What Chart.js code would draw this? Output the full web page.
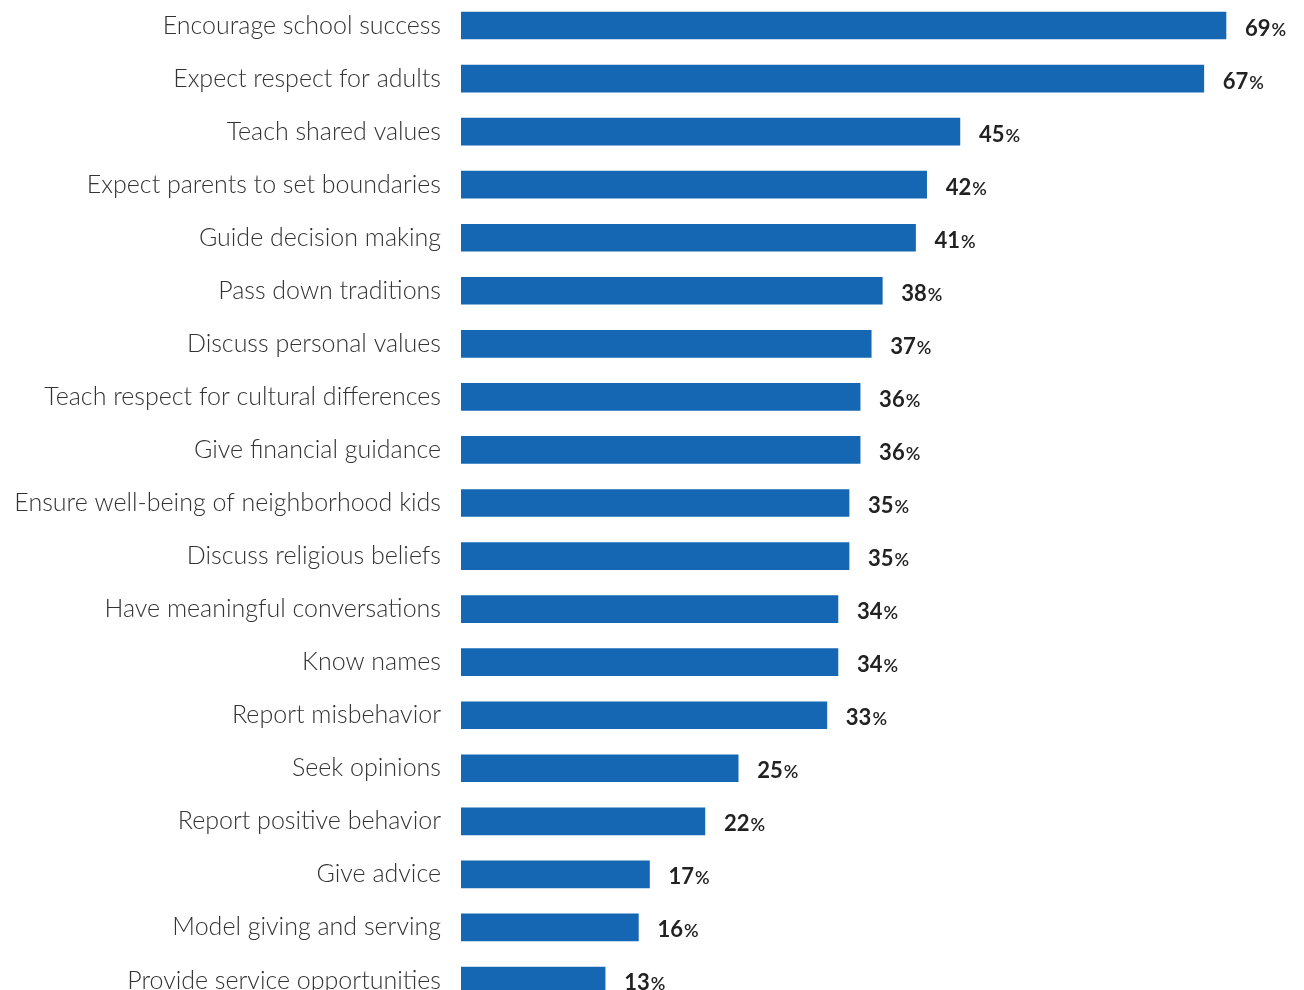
<!DOCTYPE html>
<html>
<head>
<meta charset="utf-8">
<script src="https://cdn.jsdelivr.net/npm/chart.js@4"></script>
<style>
  html, body { margin: 0; padding: 0; background: #fff; overflow: hidden; }
  #wrap { position: absolute; left: 0; top: -1px; width: 1304px; height: 1008px; }
</style>
</head>
<body>
<div id="wrap"><canvas id="myChart"></canvas></div>
<script>
var labels = [
  "Encourage school success",
  "Expect respect for adults",
  "Teach shared values",
  "Expect parents to set boundaries",
  "Guide decision making",
  "Pass down traditions",
  "Discuss personal values",
  "Teach respect for cultural differences",
  "Give financial guidance",
  "Ensure well-being of neighborhood kids",
  "Discuss religious beliefs",
  "Have meaningful conversations",
  "Know names",
  "Report misbehavior",
  "Seek opinions",
  "Report positive behavior",
  "Give advice",
  "Model giving and serving",
  "Provide service opportunities"
];
var values = [69, 67, 45, 42, 41, 38, 37, 36, 36, 35, 35, 34, 34, 33, 25, 22, 17, 16, 13];

// writes "NN%" after each bar, number bold and the percent sign a bit smaller
var valueLabels = {
  id: 'valueLabels',
  afterDatasetsDraw: function(chart) {
    var ctx = chart.ctx;
    var meta = chart.getDatasetMeta(0);
    ctx.save();
    ctx.fillStyle = '#222';
    ctx.textBaseline = 'alphabetic';
    meta.data.forEach(function(bar, i) {
      var x = bar.x + 19;
      var y = bar.y + 10;
      var num = String(values[i]);
      ctx.font = 'bold 22px Lato';
      ctx.fillText(num, x, y);
      var w = ctx.measureText(num).width;
      ctx.font = '600 18px Lato';
      ctx.fillText('%', x + w + 1, y);
    });
    ctx.restore();
  }
};

var ctx = document.getElementById('myChart').getContext('2d');
var chart = new Chart(ctx, {
    type: 'bar',
    data: {
        labels: labels,
        datasets: [{
            data: values,
            backgroundColor: '#1567b3',
            barThickness: 27
        }]
    },
    options: {
        indexAxis: 'y',
        responsive: true,
        maintainAspectRatio: false,
        animation: false,
        layout: { padding: { left: 0, right: 11.5, top: 0, bottom: 0 } },
        plugins: {
            legend: { display: false },
            tooltip: { enabled: false }
        },
        scales: {
            x: {
                display: false,
                min: 0,
                max: 75
            },
            y: {
                grid: { display: false, drawTicks: false },
                border: { display: false },
                ticks: {
                    color: '#333',
                    padding: 20,
                    font: { family: 'Lato', size: 25, weight: '300' }
                },
                afterFit: function(scale) {
                    scale.width = 461;
                    scale.paddingTop = 0;
                    scale.paddingBottom = 0;
                }
            }
        }
    },
    plugins: [valueLabels]
});
</script>
</body>
</html>
